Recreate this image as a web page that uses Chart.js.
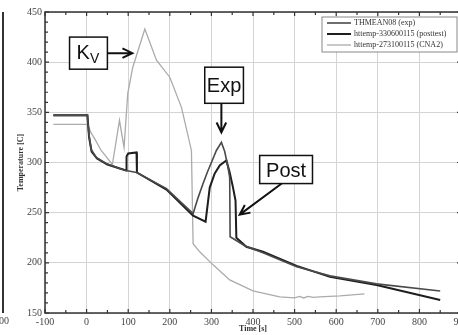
<!DOCTYPE html>
<html>
<head>
<meta charset="utf-8">
<script src="https://cdn.jsdelivr.net/npm/chart.js@4"></script>
<style>
  html, body { margin: 0; padding: 0; background: #fff; overflow: hidden; }
  #wrap { position: relative; width: 480px; height: 335px; }
</style>
</head>
<body>
<div id="wrap"><canvas id="chart" width="480" height="335"></canvas></div>
<script>
// ---- data (time [s], temperature [C]) ----
const expTime  = [-80, 2, 5, 11, 23, 47, 79, 95, 120, 192, 256, 268, 280, 290, 300, 312, 324, 332, 340, 344, 345, 380, 424, 505, 585, 697, 850];
const expTemp  = [347, 347, 330, 313, 305, 299, 294, 292, 290, 274, 249, 265, 279, 290, 300, 312, 320, 311, 295, 285, 226, 217, 210, 196, 187, 179, 172];

const postTime = [-80, 2, 6, 12, 25, 50, 80, 95, 96, 100, 120, 121, 192, 256, 286, 296, 308, 320, 336, 344, 352, 358, 360, 384, 424, 505, 585, 697, 850];
const postTemp = [347, 347, 325, 311, 304, 298, 294, 292, 306, 309, 310, 290, 273, 247, 241, 275, 289, 297, 302, 290, 275, 262, 225, 216, 211, 197, 186, 178, 163];

const cnaTime  = [-80, 3, 10, 19, 35, 62, 79, 90, 99, 111, 140, 168, 200, 228, 252, 256, 272, 304, 344, 400, 464, 500, 512, 522, 532, 545, 560, 609, 668];
const cnaTemp  = [338, 338, 330, 324, 312, 298, 342, 315, 369, 395, 433, 402, 385, 355, 312, 219, 211, 198, 183, 172, 166, 165, 166.5, 165, 166.5, 165.5, 166, 167, 169];

const seriesNames = ["THMEAN08 (exp)", "httemp-330600115 (posttest)", "httemp-273100115 (CNA2)"];
const xTicks = [-100, 0, 100, 200, 300, 400, 500, 600, 700, 800, 900];
const yTicks = [150, 200, 250, 300, 350, 400, 450];

// text boxes with arrows, in data units
const notes = [
  { text: "K", sub: "V", box: [-41, 425, 50, 393], arrow: [50, 409, 110, 409] },
  { text: "Exp", box: [284, 395, 377, 359], arrow: [324, 359, 324, 330] },
  { text: "Post", box: [416, 307, 543, 279], arrow: [469, 279, 368, 248] }
];

function pts(xs, ys) { return xs.map((v, i) => ({ x: v, y: ys[i] })); }

const serif = "'Liberation Serif', 'DejaVu Serif', serif";

function arrow(ctx, x1, y1, x2, y2) {
  const a = Math.atan2(y2 - y1, x2 - x1), h = 11, s = 0.45;
  ctx.beginPath();
  ctx.moveTo(x1, y1); ctx.lineTo(x2, y2);
  ctx.moveTo(x2 - h * Math.cos(a - s), y2 - h * Math.sin(a - s));
  ctx.lineTo(x2, y2);
  ctx.lineTo(x2 - h * Math.cos(a + s), y2 - h * Math.sin(a + s));
  ctx.stroke();
}

const decor = {
  id: "decor",
  afterDraw(chart) {
    const ctx = chart.ctx;
    const { left, right, top, bottom } = chart.chartArea;
    const x = chart.scales.x, y = chart.scales.y;
    ctx.save();

    /* ---------- frame + inward ticks ---------- */
    ctx.strokeStyle = "#333";
    ctx.lineWidth = 1.5;
    ctx.strokeRect(left, top, right - left, bottom - top);
    ctx.lineWidth = 1.2;
    ctx.beginPath();
    for (let t = -100; t <= 900; t += 50) {
      const px = x.getPixelForValue(t), len = t % 100 === 0 ? 4 : 3;
      ctx.moveTo(px, bottom); ctx.lineTo(px, bottom - len);
      ctx.moveTo(px, top); ctx.lineTo(px, top + len);
    }
    for (let v = 150; v <= 450; v += 10) {
      const py = y.getPixelForValue(v), len = v % 50 === 0 ? 4 : 3;
      ctx.moveTo(left, py); ctx.lineTo(left + len, py);
      if (v % 50 === 0) { ctx.moveTo(right, py); ctx.lineTo(right - len, py); }
    }
    ctx.stroke();

    /* ---------- neighbour panel edge ---------- */
    ctx.lineWidth = 2;
    ctx.beginPath();
    ctx.moveTo(3, top); ctx.lineTo(3, bottom);
    ctx.stroke();
    ctx.fillStyle = "#444";
    ctx.font = "10px " + serif;
    ctx.textBaseline = "middle";
    ctx.fillText("00", -1, 321);

    /* ---------- legend ---------- */
    const lx = right - 139, ly = top + 5;
    ctx.fillStyle = "#fff";
    ctx.fillRect(lx, ly, 135, 35);
    ctx.strokeStyle = "#888";
    ctx.lineWidth = 1;
    ctx.strokeRect(lx, ly, 135, 35);
    ctx.font = "8px " + serif;
    chart.data.datasets.forEach((ds, i) => {
      const ry = ly + 6 + i * 11;
      ctx.strokeStyle = ds.borderColor;
      ctx.lineWidth = ds.borderWidth;
      ctx.beginPath(); ctx.moveTo(lx + 5, ry); ctx.lineTo(lx + 29, ry); ctx.stroke();
      ctx.fillStyle = "#333";
      ctx.fillText(ds.label, lx + 32, ry);
    });

    /* ---------- labelled arrows ---------- */
    notes.forEach(n => {
      const bx1 = x.getPixelForValue(n.box[0]), by1 = y.getPixelForValue(n.box[1]);
      const bx2 = x.getPixelForValue(n.box[2]), by2 = y.getPixelForValue(n.box[3]);
      ctx.fillStyle = "#fff";
      ctx.fillRect(bx1, by1, bx2 - bx1, by2 - by1);
      ctx.strokeStyle = "#111";
      ctx.lineWidth = 1.5;
      ctx.strokeRect(bx1, by1, bx2 - bx1, by2 - by1);
      ctx.fillStyle = "#111";
      ctx.font = "20px 'Liberation Sans', Arial, sans-serif";
      ctx.textBaseline = "alphabetic";
      const cy = (by1 + by2) / 2;
      if (n.sub) {
        ctx.fillText(n.text, bx1 + 7, cy + 6);
        const w = ctx.measureText(n.text).width;
        ctx.font = "14px 'Liberation Sans', Arial, sans-serif";
        ctx.fillText(n.sub, bx1 + 7 + w, cy + 10);
      } else {
        ctx.textAlign = "center";
        ctx.fillText(n.text, (bx1 + bx2) / 2, cy + 7);
        ctx.textAlign = "left";
      }
      ctx.lineWidth = 2;
      arrow(ctx,
        x.getPixelForValue(n.arrow[0]), y.getPixelForValue(n.arrow[1]),
        x.getPixelForValue(n.arrow[2]), y.getPixelForValue(n.arrow[3]));
    });
    ctx.restore();
  }
};

new Chart(document.getElementById("chart"), {
  type: "line",
  data: {
    datasets: [
      { label: seriesNames[0], data: pts(expTime, expTemp), borderColor: "#4a4a4a", borderWidth: 1.6 },
      { label: seriesNames[1], data: pts(postTime, postTemp), borderColor: "#1e1e1e", borderWidth: 2 },
      { label: seriesNames[2], data: pts(cnaTime, cnaTemp), borderColor: "#ababab", borderWidth: 1.3 }
    ]
  },
  options: {
    responsive: false,
    animation: false,
    layout: { padding: { left: 0, right: 19, top: 12, bottom: 0 } },
    elements: { point: { radius: 0 }, line: { tension: 0 } },
    plugins: { legend: { display: false }, tooltip: { enabled: false } },
    scales: {
      x: {
        type: "linear",
        min: -100, max: 900,
        afterBuildTicks: s => { s.ticks = xTicks.map(v => ({ value: v })); },
        afterFit: s => { s.height = 22; },
        grid: { color: "#d4d4d4", lineWidth: 1, drawTicks: false },
        border: { display: false },
        ticks: { padding: 3, color: "#444", font: { family: serif, size: 10 }, maxRotation: 0 },
        title: { display: true, text: "Time [s]", color: "#333", font: { family: serif, size: 8, weight: "bold" }, padding: { top: 0, bottom: 1 } }
      },
      y: {
        min: 150, max: 450,
        afterBuildTicks: s => { s.ticks = yTicks.map(v => ({ value: v })); },
        afterFit: s => { s.width = 45; },
        grid: { color: "#d4d4d4", lineWidth: 1, drawTicks: false },
        border: { display: false },
        ticks: { padding: 3, color: "#444", font: { family: serif, size: 10 } },
        title: { display: true, text: "Temperature [C]", color: "#333", font: { family: serif, size: 8, weight: "bold" }, padding: { top: 16, bottom: 0 } }
      }
    }
  },
  plugins: [decor]
});
</script>
</body>
</html>
